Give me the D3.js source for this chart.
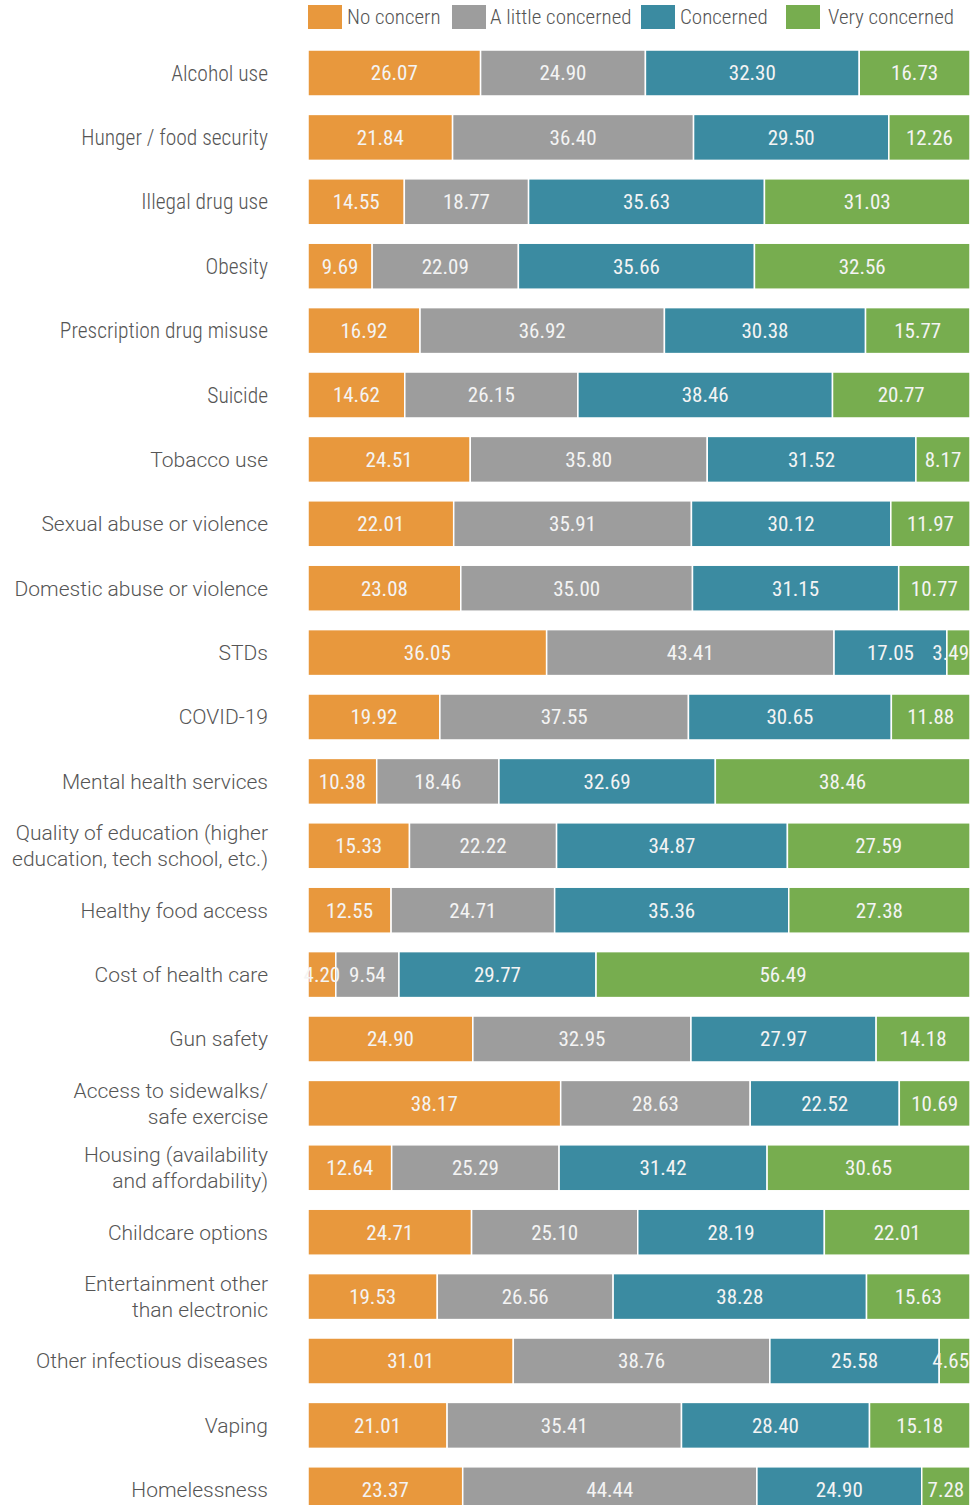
<!DOCTYPE html>
<html>
<head>
<meta charset="utf-8">
<script src="https://cdn.jsdelivr.net/npm/d3@7"></script>
<style>
  html, body { margin: 0; padding: 0; background: #fff; }
  svg { display: block; }
  text { font-family: "Roboto Condensed", "Liberation Sans Narrow", "DejaVu Sans Condensed", sans-serif; }
  text.wide { font-family: Roboto, "Open Sans", sans-serif; }
</style>
</head>
<body>
<svg id="chart" width="970" height="1505"></svg>
<script>
// Concern levels (legend order, left to right in each bar)
const levels = ["No concern", "A little concerned", "Concerned", "Very concerned"];
const levelColors = ["#E8983D", "#9D9D9D", "#3B8BA1", "#77AD4F"];

// Community issues, top to bottom ("\n" marks a line break in the label)
const categories = [
  "Alcohol use",
  "Hunger / food security",
  "Illegal drug use",
  "Obesity",
  "Prescription drug misuse",
  "Suicide",
  "Tobacco use",
  "Sexual abuse or violence",
  "Domestic abuse or violence",
  "STDs",
  "COVID-19",
  "Mental health services",
  "Quality of education (higher\neducation, tech school, etc.)",
  "Healthy food access",
  "Cost of health care",
  "Gun safety",
  "Access to sidewalks/\nsafe exercise",
  "Housing (availability\nand affordability)",
  "Childcare options",
  "Entertainment other\nthan electronic",
  "Other infectious diseases",
  "Vaping",
  "Homelessness"
];

// Percent of respondents at each level
const noConcern = [26.07, 21.84, 14.55, 9.69, 16.92, 14.62, 24.51, 22.01, 23.08, 36.05, 19.92, 10.38, 15.33, 12.55, 4.20, 24.90, 38.17, 12.64, 24.71, 19.53, 31.01, 21.01, 23.37];
const aLittleConcerned = [24.90, 36.40, 18.77, 22.09, 36.92, 26.15, 35.80, 35.91, 35.00, 43.41, 37.55, 18.46, 22.22, 24.71, 9.54, 32.95, 28.63, 25.29, 25.10, 26.56, 38.76, 35.41, 44.44];
const concerned = [32.30, 29.50, 35.63, 35.66, 30.38, 38.46, 31.52, 30.12, 31.15, 17.05, 30.65, 32.69, 34.87, 35.36, 29.77, 27.97, 22.52, 31.42, 28.19, 38.28, 25.58, 28.40, 24.90];
const veryConcerned = [16.73, 12.26, 31.03, 32.56, 15.77, 20.77, 8.17, 11.97, 10.77, 3.49, 11.88, 38.46, 27.59, 27.38, 56.49, 14.18, 10.69, 30.65, 22.01, 15.63, 4.65, 15.18, 7.28];

const seriesValues = [noConcern, aLittleConcerned, concerned, veryConcerned];

// The first few issue names are set in the condensed face, the rest in the regular one
const condensedLabelCount = 6;

const rows = categories.map((c, i) => {
  const row = { category: c };
  levels.forEach((l, k) => { row[l] = seriesValues[k][i]; });
  return row;
});

const svg = d3.select("#chart");
const W = 970;

const x = d3.scaleLinear().domain([0, 100]).range([308, 970]);
const y = d3.scaleBand()
  .domain(categories)
  .range([40.8, 40.8 + categories.length * 64.4])
  .paddingInner(0.286)
  .paddingOuter(0.143);

const color = d3.scaleOrdinal().domain(levels).range(levelColors);

const stacked = d3.stack().keys(levels)(rows);

// Bars
const layers = svg.append("g").selectAll("g")
  .data(stacked)
  .join("g")
  .attr("fill", d => color(d.key));

layers.selectAll("rect")
  .data(d => d.map(s => ({ s, key: d.key })))
  .join("rect")
  .attr("x", d => x(d.s[0]))
  .attr("y", d => y(d.s.data.category))
  .attr("width", d => x(d.s[1]) - x(d.s[0]))
  .attr("height", y.bandwidth())
  .attr("stroke", "#fff")
  .attr("stroke-width", 1.5);

// Value labels inside segments
const valueLabels = svg.append("g");
stacked.forEach(layer => {
  layer.forEach(s => {
    const v = s[1] - s[0];
    const t = valueLabels.append("text")
      .attr("y", y(s.data.category) + y.bandwidth() / 2)
      .attr("dy", "0.35em")
      .attr("text-anchor", "middle")
      .attr("fill", "#F4F4F4")
      .attr("font-size", 21)
      .attr("font-weight", 400)
      .text(v.toFixed(2));
    const w = t.node().getComputedTextLength();
    let cx = (x(s[0]) + x(s[1])) / 2;
    cx = Math.min(cx, W - w / 2 - 1);
    t.attr("x", cx);
  });
});

// Category labels
const catLabels = svg.append("g");
categories.forEach((c, i) => {
  const lines = c.split("\n");
  const cy = y(c) + y.bandwidth() / 2;
  const lh = 26;
  const wide = i >= condensedLabelCount;
  const t = catLabels.append("text")
    .attr("class", wide ? "wide" : null)
    .attr("x", 268)
    .attr("text-anchor", "end")
    .attr("fill", "#555")
    .attr("font-weight", 300)
    .attr("font-size", wide ? 21 : 21.5);
  lines.forEach((ln, j) => {
    t.append("tspan")
      .attr("x", 268)
      .attr("y", cy + (j - (lines.length - 1) / 2) * lh)
      .attr("dy", "0.35em")
      .text(ln);
  });
});

// Legend
const legendX = [308, 452, 641, 786];
const legendTextGap = [39, 38, 39, 42];
const legend = svg.append("g");
levels.forEach((l, k) => {
  legend.append("rect")
    .attr("x", legendX[k])
    .attr("y", 5)
    .attr("width", 34)
    .attr("height", 24)
    .attr("fill", color(l));
  legend.append("text")
    .attr("x", legendX[k] + legendTextGap[k])
    .attr("y", 17)
    .attr("dy", "0.35em")
    .attr("fill", "#555")
    .attr("font-weight", 300)
    .attr("font-size", 21)
    .text(l);
});
</script>
</body>
</html>
